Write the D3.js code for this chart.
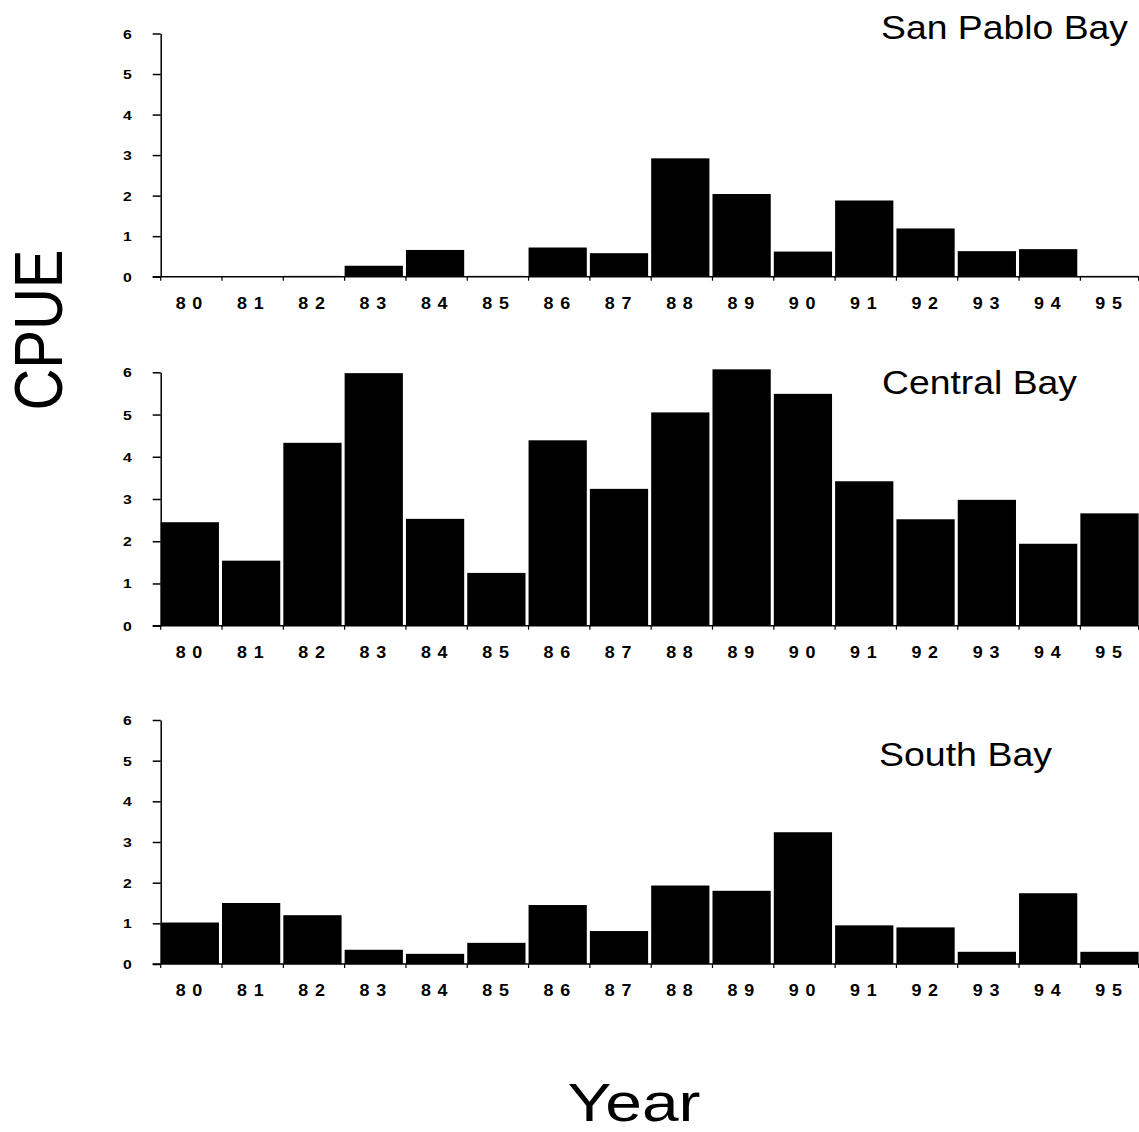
<!DOCTYPE html>
<html>
<head>
<meta charset="utf-8">
<script src="https://cdn.jsdelivr.net/npm/d3@7"></script>
<style>
  html, body { margin: 0; padding: 0; background: #fff; }
  svg { display: block; }
  text { font-family: "Liberation Sans", Arial, Helvetica, sans-serif; fill: #000; }
</style>
</head>
<body>
<svg id="chart" width="1139" height="1132"></svg>
<script>
// ---- data ----
const years = ["80","81","82","83","84","85","86","87","88","89","90","91","92","93","94","95"];
const yTicks = [0, 1, 2, 3, 4, 5, 6];
const sanPablo = [0, 0, 0.02, 0.27, 0.66, 0.02, 0.72, 0.58, 2.92, 2.04, 0.62, 1.88, 1.19, 0.63, 0.68, 0.02];
const central  = [2.45, 1.54, 4.33, 5.98, 2.53, 1.25, 4.39, 3.24, 5.05, 6.07, 5.49, 3.42, 2.52, 2.98, 1.94, 2.66];
const southBay = [1.02, 1.50, 1.20, 0.35, 0.25, 0.52, 1.45, 0.81, 1.93, 1.80, 3.24, 0.95, 0.90, 0.30, 1.74, 0.30];
const panelTitles = ["San Pablo Bay", "Central Bay", "South Bay"];
const yTitle = "CPUE";
const xTitle = "Year";

// ---- layout ----
const svg = d3.select("#chart");
const axisX = 160.7;
const xRight = 1138.6;
const sx = 1.17; // horizontal stretch of the lettering

const panels = [
  { values: sanPablo, title: panelTitles[0], y0: 276.7, y6: 33.5, tx: 881, tw: 247, ty: 39 },
  { values: central,  title: panelTitles[1], y0: 625.7, y6: 372.3, tx: 882, tw: 195, ty: 394 },
  { values: southBay, title: panelTitles[2], y0: 964,   y6: 720,   tx: 879, tw: 173, ty: 766 }
];

const x = d3.scaleBand().domain(years).range([axisX, xRight]).paddingInner(0.05).paddingOuter(0).align(0);

panels.forEach(p => {
  const y = d3.scaleLinear().domain([0, 6]).range([p.y0, p.y6]);
  const g = svg.append("g");

  // bars
  g.selectAll("rect.bar").data(p.values).join("rect")
    .attr("class", "bar")
    .attr("x", (d, i) => x(years[i]))
    .attr("width", x.bandwidth())
    .attr("y", d => y(d))
    .attr("height", d => y(0) - y(d))
    .attr("fill", "#000");

  // y axis (line + ticks)
  const ax = g.append("g").attr("transform", `translate(${axisX},0)`)
    .call(d3.axisLeft(y).tickValues(yTicks).tickSize(8).tickSizeOuter(0).tickFormat(""));
  ax.select(".domain").attr("stroke", "#000").attr("stroke-width", 1.5);
  ax.selectAll(".tick line").attr("stroke", "#000").attr("stroke-width", 1.5);

  // y tick labels
  g.selectAll("text.ylab").data(yTicks).join("text")
    .attr("class", "ylab")
    .attr("transform", d => `translate(127.5,${y(d) + 5}) scale(${sx},1)`)
    .attr("text-anchor", "middle")
    .attr("font-size", 13.5)
    .attr("font-weight", "bold")
    .text(d => d);

  // baseline
  g.append("line")
    .attr("x1", axisX - 8).attr("x2", xRight)
    .attr("y1", y(0)).attr("y2", y(0))
    .attr("stroke", "#000").attr("stroke-width", 1.5);

  // x ticks at band boundaries
  const bounds = years.map(yr => x(yr)).concat([xRight]);
  g.selectAll("line.xt").data(bounds).join("line")
    .attr("class", "xt")
    .attr("x1", d => d).attr("x2", d => d)
    .attr("y1", y(0)).attr("y2", y(0) + 4)
    .attr("stroke", "#000").attr("stroke-width", 1.2);

  // x labels
  g.selectAll("text.xlab").data(years).join("text")
    .attr("class", "xlab")
    .attr("transform", d => `translate(${x(d) + x.step() / 2 + 1},${y(0) + 32}) scale(1.12,1)`)
    .attr("text-anchor", "middle")
    .attr("font-size", 16)
    .attr("font-weight", "bold")
    .attr("letter-spacing", "6px")
    .text(d => d);

  // panel title
  g.append("text")
    .attr("x", p.tx).attr("y", p.ty)
    .attr("font-size", 32.5)
    .attr("textLength", p.tw)
    .attr("lengthAdjust", "spacingAndGlyphs")
    .text(p.title);
});

// axis titles
svg.append("text")
  .attr("transform", `translate(62,330) scale(${sx},1) rotate(-90)`)
  .attr("text-anchor", "middle")
  .attr("font-size", 58)
  .text(yTitle);

svg.append("text")
  .attr("transform", `translate(634,1121) scale(1.22,1)`)
  .attr("text-anchor", "middle")
  .attr("font-size", 54)
  .text(xTitle);
</script>
</body>
</html>
